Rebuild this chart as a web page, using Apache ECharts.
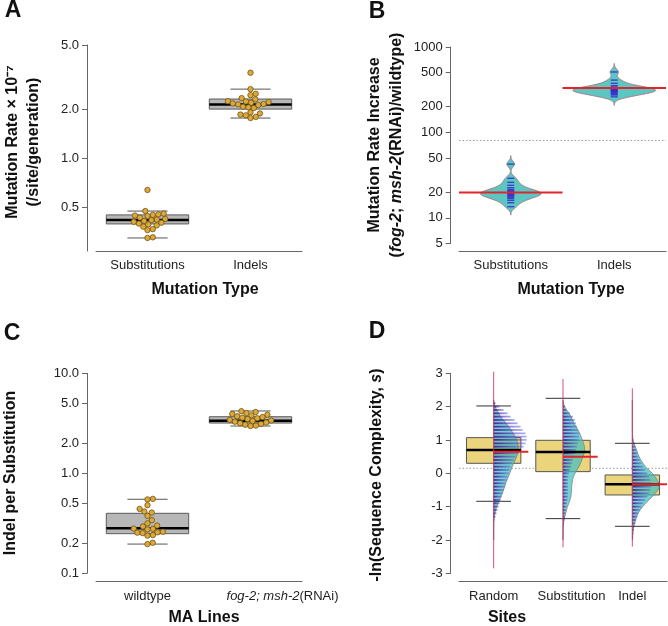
<!DOCTYPE html>
<html><head><meta charset="utf-8">
<script src="https://cdn.jsdelivr.net/npm/echarts@6/dist/echarts.min.js"></script>
<style>html,body{margin:0;padding:0;background:#fff}#c{width:668px;height:626px}</style>
</head><body><div id="c"></div>
<script>
// ---------- Panel A ----------
const aCategories = ['Substitutions', 'Indels'];
const aSubsRates = [0.637, 0.472, 0.455, 0.45, 0.447, 0.443, 0.44, 0.43, 0.422, 0.418, 0.415, 0.41, 0.405, 0.40, 0.395, 0.39, 0.385, 0.378, 0.365, 0.36, 0.325, 0.322];
const aIndelRates = [3.37, 2.67, 2.5, 2.45, 2.35, 2.31, 2.25, 2.24, 2.22, 2.2, 2.18, 2.16, 2.15, 2.13, 2.08, 2.06, 2.04, 1.92, 1.89, 1.86, 1.84, 1.8, 1.77];
// [lower whisker, Q1, median, Q3, upper whisker]
const aSubsBox = [0.322, 0.393, 0.416, 0.447, 0.472];
const aIndelBox = [1.77, 2.01, 2.15, 2.32, 2.67];
const aYTicks = [0.5, 1, 2, 5];
const aYRange = [0.2675, 5];

// ---------- Panel B ----------
const bCategories = ['Substitutions', 'Indels'];
const bSubsIncrease = [42.5, 29, 26, 24, 22.5, 21.5, 20.8, 20.3, 19.9, 19.5, 19.1, 18.7, 18.3, 17.9, 17.4, 16.8, 16, 15, 13.5];
const bIndelIncrease = [510, 410, 375, 352, 340, 333, 327, 322, 317, 313, 309, 305, 300, 294, 287, 280, 274, 261];
const bMeans = [19.8, 331];
const bReference = 80.5;
const bYTicks = [5, 10, 20, 50, 100, 200, 500, 1000];

// ---------- Panel C ----------
const cCategories = ['wildtype', 'fog-2; msh-2(RNAi)'];
const cWildtype = [0.555, 0.548, 0.48, 0.44, 0.415, 0.405, 0.375, 0.34, 0.316, 0.3, 0.294, 0.28, 0.278, 0.275, 0.26, 0.257, 0.255, 0.252, 0.241, 0.238, 0.202, 0.196];
const cMutator = [4.18, 4.1, 4.0, 3.92, 3.85, 3.8, 3.72, 3.65, 3.6, 3.55, 3.48, 3.42, 3.38, 3.33, 3.28, 3.22, 3.17, 3.12, 3.06, 3.0, 2.97];
const cWildtypeBox = [0.196, 0.249, 0.282, 0.398, 0.55];
const cMutatorBox = [2.97, 3.18, 3.36, 3.68, 4.2];
const cYTicks = [0.1, 0.2, 0.5, 1, 2, 5, 10];

// ---------- Panel D ----------
const dCategories = ['Random', 'Substitution', 'Indel'];
const dBinStart = -2.0, dBinStep = 0.1; // bins -2.0 ... 2.2
const dRandomDensity = [0,0,0,0,0.1,0.1,0.2,0.6,1.2,2,3,4.3,5.8,7.2,8.7,9.8,11,12,13.3,14.7,16,17.3,18.5,20,21.5,23,24,24.5,24.5,24,23,21.5,19.5,17.5,15,12.5,9.5,7,5,3,1.5,0.5,0.1];
const dSubsDensity = [0,0,0.1,0.2,0.3,0.6,1,1.8,2.7,3.5,4.5,5.8,7,7.8,8.3,8.5,8.7,9,9.5,10.5,12,14,16,17.5,18.8,20,21,21.7,21.5,20.5,19.3,18,16.7,15,13,11,9.5,8,6,3.5,1.7,0.5,0.1];
const dIndelDensity = [0.2,0.4,0.6,1,1.5,2.3,3.2,4.3,5.8,7.7,10.3,13.3,16.5,20,23,25.7,26.7,26.5,25,22.7,20,16.5,13,10.7,8.5,6.7,5.3,4.2,3,1.7,0.8,0.3,0.1,0,0,0,0,0,0,0,0,0,0];
const dRandomLines = [0,0,0,0,0,0,1,2,3,4,5,6,7,8,9,10,11,12,13,14,15,16,17,18,20,22,25,27,30,32,33,33,32,29,27,24,21,17,14,10,6,2,0];
const dSubsLines = [0,0,0,0,0.5,1,1.5,2,2.5,3,3.5,4,4.5,5,5,5,5,5,5,5.5,6,7,8,9,10,11,12,13,14,15,16,16,16,15,14,13,12,10,7,4,2,1,0];
const dIndelLines = [0,0.5,1,1.5,2,3,4,5,6,7.5,9,11,13,15,17,18,19,19,18,17,15,13,11,9,7.5,6,5,4,3,2,1,0.5,0,0,0,0,0,0,0,0,0,0,0];
const dBoxes = [[-0.84, 0.30, 0.70, 1.07, 2.02], [-1.36, 0.05, 0.64, 0.99, 2.25], [-1.59, -0.65, -0.33, -0.05, 0.90]];
const dRanges = [[-2.85, 3.05], [-2.22, 2.83], [-2.2, 2.55]];
const dMeans = [0.65, 0.50, -0.33];
const dOverall = 0.15;
const dYTicks = [-3, -2, -1, 0, 1, 2, 3];

// ---------- helpers ----------
const FONT = '"Liberation Sans", Arial, Helvetica, sans-serif';
const L = Math.log10;
const AXIS = '#666';
function seg(x1, y1, x2, y2, style) { return { type: 'line', shape: { x1, y1, x2, y2 }, style }; }

function boxSeries(xi, yi, n, boxes, tf, o) {
  return {
    type: 'custom', xAxisIndex: xi, yAxisIndex: yi, z: o.z || 2,
    data: boxes.map((b, i) => [i].concat(b.map(tf))),
    renderItem(params, api) {
      const ci = api.value(0);
      const band = params.coordSys.width / n;
      const cx = api.coord([ci, api.value(3)])[0];
      const y = k => api.coord([ci, api.value(k)])[1];
      const bw = band * o.boxFrac, cw = band * o.capFrac;
      const ch = [];
      if (o.box) ch.push({ type: 'rect', shape: { x: cx - bw / 2, y: y(4), width: bw, height: y(2) - y(4) }, style: { fill: o.fill, stroke: o.stroke, lineWidth: 1 } });
      if (o.median) ch.push(seg(cx - bw / 2, y(3), cx + bw / 2, y(3), { stroke: '#000', lineWidth: o.medianWidth }));
      if (o.caps) {
        ch.push(seg(cx - cw / 2, y(5), cx + cw / 2, y(5), { stroke: o.capColor, lineWidth: 1 }));
        ch.push(seg(cx - cw / 2, y(1), cx + cw / 2, y(1), { stroke: o.capColor, lineWidth: 1 }));
      }
      return { type: 'group', children: ch };
    }
  };
}

function swarmSeries(xi, yi, groups, r) {
  const data = [];
  groups.forEach((vals, ci) => vals.forEach(v => data.push([ci, L(v)])));
  let offsets = null;
  return {
    type: 'custom', xAxisIndex: xi, yAxisIndex: yi, z: 4, data,
    renderItem(params, api) {
      if (!offsets) {
        offsets = new Array(data.length).fill(0);
        groups.forEach((vals, ci) => {
          const pts = [];
          data.forEach((d, i) => { if (d[0] === ci) pts.push({ i, y: api.coord([ci, d[1]])[1] }); });
          pts.sort((a, b) => b.y - a.y);
          const placed = [], D = 2 * r;
          pts.forEach(p => {
            const cands = [0];
            placed.forEach(q => {
              const dy = p.y - q.y;
              if (Math.abs(dy) < D) { const dx = Math.sqrt(D * D - dy * dy); cands.push(q.x + dx, q.x - dx); }
            });
            cands.sort((a, b) => Math.abs(a) - Math.abs(b));
            let x = 0;
            for (const c of cands) {
              if (placed.every(q => (q.x - c) * (q.x - c) + (q.y - p.y) * (q.y - p.y) >= D * D - 0.01)) { x = c; break; }
            }
            p.x = x; placed.push(p); offsets[p.i] = x;
          });
        });
      }
      const pt = api.coord([api.value(0), api.value(1)]);
      return { type: 'circle', shape: { cx: pt[0] + offsets[params.dataIndex], cy: pt[1], r }, style: { fill: '#dcaa3c', stroke: '#6e5214', lineWidth: 0.8 } };
    }
  };
}

// Kernel density (log10 space) for panel B beans
function kde(vals, bw) {
  const xs = vals.map(L);
  const lo = Math.min(...xs) - 3 * bw, hi = Math.max(...xs) + 3 * bw, N = 160, out = [];
  for (let k = 0; k <= N; k++) {
    const g = lo + (hi - lo) * k / N;
    let s = 0;
    xs.forEach(x => { const z = (g - x) / bw; s += Math.exp(-0.5 * z * z); });
    out.push([g, s / xs.length]);
  }
  return out;
}
const bBeans = [kde(bSubsIncrease, 0.033), kde(bIndelIncrease, 0.033)];
const bMax = Math.max(...bBeans.flat().map(p => p[1]));
const dDens = [dRandomDensity, dSubsDensity, dIndelDensity];
const dLinesArr = [dRandomLines, dSubsLines, dIndelLines];
const dMax = Math.max(...dDens.flat());

function xAxisCfg(gi, cats, offset, fmt, rich) {
  return {
    type: 'category', gridIndex: gi, data: cats, offset,
    axisLine: { onZero: false, lineStyle: { color: AXIS, width: 1 } }, axisTick: { show: false },
    axisLabel: { interval: 0, margin: 8, color: '#222', fontSize: 13, fontFamily: FONT, formatter: fmt, rich, hideOverlap: false },
    splitLine: { show: false }
  };
}
function yAxisCfg(gi, min, max, ticks, fmt, offset) {
  return {
    type: 'value', gridIndex: gi, min, max, offset,
    axisLine: { show: true, onZero: false, lineStyle: { color: AXIS, width: 1 } },
    axisTick: { show: true, length: 5, lineStyle: { color: AXIS }, customValues: ticks },
    axisLabel: { customValues: ticks, formatter: fmt, margin: 8, color: '#222', fontSize: 13, fontFamily: FONT, showMinLabel: true, showMaxLabel: true },
    splitLine: { show: false }
  };
}
const richBase = { color: '#222', fontSize: 13, fontFamily: FONT };

const series = [];
// ---- A ----
series.push(boxSeries(0, 0, 2, [aSubsBox, aIndelBox], L, { box: true, median: true, caps: true, boxFrac: 0.8, capFrac: 0.39, fill: '#b7b7b7', stroke: '#5c5c5c', medianWidth: 2.5, capColor: '#555' }));
series.push(swarmSeries(0, 0, [aSubsRates, aIndelRates], 2.7));
// ---- B ----
series.push({
  type: 'custom', xAxisIndex: 1, yAxisIndex: 1, z: 1, data: [[0, L(bReference)]],
  renderItem(params, api) {
    const cs = params.coordSys, y = api.coord([0, api.value(1)])[1];
    return seg(cs.x, y, cs.x + cs.width, y, { stroke: '#9a9a9a', lineWidth: 1, lineDash: [1.5, 2] });
  }
});
series.push({
  type: 'custom', xAxisIndex: 1, yAxisIndex: 1, z: 2, data: [[0, L(bMeans[0])], [1, L(bMeans[1])]],
  renderItem(params, api) {
    const ci = api.value(0), band = params.coordSys.width / 2;
    const cx = api.coord([ci, api.value(1)])[0];
    const pts = bBeans[ci];
    const half = d => d / bMax * 0.4 * band;
    const right = pts.map(p => [cx + half(p[1]), api.coord([ci, p[0]])[1]]);
    const left = pts.slice().reverse().map(p => [cx - half(p[1]), api.coord([ci, p[0]])[1]]);
    return { type: 'polygon', shape: { points: right.concat(left) }, style: { fill: '#5cc6c2', stroke: '#a07e80', lineWidth: 1 } };
  }
});
const bDashData = [];
[bSubsIncrease, bIndelIncrease].forEach((vals, ci) => vals.forEach(v => bDashData.push([ci, L(v)])));
series.push({
  type: 'custom', xAxisIndex: 1, yAxisIndex: 1, z: 3, data: bDashData,
  renderItem(params, api) {
    const p = api.coord([api.value(0), api.value(1)]);
    return seg(p[0] - 3.5, p[1], p[0] + 3.5, p[1], { stroke: 'rgba(55,45,200,0.85)', lineWidth: 1.4 });
  }
});
series.push({
  type: 'custom', xAxisIndex: 1, yAxisIndex: 1, z: 4, data: bMeans.map((m, i) => [i, L(m)]),
  renderItem(params, api) {
    const band = params.coordSys.width / 2, p = api.coord([api.value(0), api.value(1)]);
    return seg(p[0] - band / 2, p[1], p[0] + band / 2, p[1], { stroke: '#e3242b', lineWidth: 2 });
  }
});
// ---- C ----
series.push(boxSeries(2, 2, 2, [cWildtypeBox, cMutatorBox], L, { box: true, median: true, caps: true, boxFrac: 0.8, capFrac: 0.39, fill: '#b7b7b7', stroke: '#5c5c5c', medianWidth: 2.5, capColor: '#555' }));
series.push(swarmSeries(2, 2, [cWildtype, cMutator], 2.7));
// ---- D ----
const dId = v => v;
series.push({
  type: 'custom', xAxisIndex: 3, yAxisIndex: 3, z: 1, data: [[0, dOverall]],
  renderItem(params, api) {
    const cs = params.coordSys, y = api.coord([0, api.value(1)])[1];
    return seg(cs.x, y, cs.x + cs.width, y, { stroke: '#9a9a9a', lineWidth: 1, lineDash: [1.5, 2] });
  }
});
series.push(boxSeries(3, 3, 3, dBoxes, dId, { box: true, boxFrac: 0.785, fill: '#ebd57c', stroke: '#555', z: 2 }));
series.push({
  type: 'custom', xAxisIndex: 3, yAxisIndex: 3, z: 3, data: [[0, 0], [1, 0], [2, 0]],
  renderItem(params, api) {
    const ci = api.value(0), band = params.coordSys.width / 3;
    const cx = api.coord([ci, 0])[0];
    const d = dDens[ci], k = 0.385 * band / dMax;
    const pts = d.map((v, i) => [cx + v * k, api.coord([ci, dBinStart + i * dBinStep])[1]]);
    pts.push([cx, pts[pts.length - 1][1]], [cx, pts[0][1]]);
    return { type: 'polygon', shape: { points: pts }, style: { fill: 'rgba(62,192,190,0.72)', stroke: '#808080', lineWidth: 0.8 } };
  }
});
const dLineData = [];
dLinesArr.forEach((arr, ci) => arr.forEach((len, i) => { if (len > 0) dLineData.push([ci, dBinStart + i * dBinStep, len]); }));
series.push({
  type: 'custom', xAxisIndex: 3, yAxisIndex: 3, z: 4, data: dLineData,
  renderItem(params, api) {
    const band = params.coordSys.width / 3;
    const p = api.coord([api.value(0), api.value(1)]);
    const x2 = p[0] + api.value(2) * 0.385 * band / dMax;
    return seg(p[0], p[1], x2, p[1], {
      lineWidth: 1.8,
      stroke: { type: 'linear', global: true, x: p[0], y: p[1], x2: x2, y2: p[1], colorStops: [{ offset: 0, color: 'rgba(72,18,150,0.95)' }, { offset: 1, color: 'rgba(90,100,215,0.5)' }] }
    });
  }
});
series.push(boxSeries(3, 3, 3, dBoxes, dId, { median: true, caps: true, boxFrac: 0.785, capFrac: 0.5, medianWidth: 2.5, capColor: '#333', z: 5 }));
series.push({
  type: 'custom', xAxisIndex: 3, yAxisIndex: 3, z: 6, data: dRanges.map((r, i) => [i, r[0], r[1]]),
  renderItem(params, api) {
    const a = api.coord([api.value(0), api.value(1)]), b = api.coord([api.value(0), api.value(2)]);
    return seg(a[0], a[1], b[0], b[1], { stroke: 'rgba(200,55,95,0.85)', lineWidth: 1 });
  }
});
series.push({
  type: 'custom', xAxisIndex: 3, yAxisIndex: 3, z: 7, data: dMeans.map((m, i) => [i, m]),
  renderItem(params, api) {
    const band = params.coordSys.width / 3, p = api.coord([api.value(0), api.value(1)]);
    return seg(p[0], p[1], p[0] + band / 2, p[1], { stroke: '#e3242b', lineWidth: 2 });
  }
});

const titleFont = 'bold 16px ' + FONT;
const letterFont = 'bold 23px ' + FONT;
function gtext(x, y, text, font, rot, rich) {
  const el = { type: 'text', x, y, style: { text, font, fill: '#111', textAlign: 'center', textVerticalAlign: 'middle' } };
  if (rot) el.rotation = Math.PI / 2;
  if (rich) el.style.rich = rich;
  return el;
}
const boldRich = { b: { font: titleFont, fill: '#111' }, bi: { font: 'italic bold 16px ' + FONT, fill: '#111' } };

const option = {
  animation: false,
  backgroundColor: '#fff',
  grid: [
    { left: 96, top: 45, width: 206, height: 206, outerBoundsMode: 'none' },
    { left: 459, top: 47, width: 207, height: 196.5, outerBoundsMode: 'none' },
    { left: 96, top: 373.3, width: 206, height: 200, outerBoundsMode: 'none' },
    { left: 459, top: 373.3, width: 208, height: 200, outerBoundsMode: 'none' }
  ],
  xAxis: [
    xAxisCfg(0, aCategories, 0),
    xAxisCfg(1, bCategories, 7.5),
    xAxisCfg(2, cCategories, 8.4, (v, i) => i === 1 ? '{sp| }{i|fog-2; msh-2}{n|(RNAi)}' : '{n|' + v + '}',
      { sp: { width: 64 }, i: Object.assign({ fontStyle: 'italic' }, richBase), n: richBase }),
    xAxisCfg(3, dCategories, 8.4, (v, i) => i === 1 ? '{sp| }{n|' + v + '}' : '{n|' + v + '}',
      { sp: { width: 17 }, n: richBase })
  ],
  yAxis: [
    yAxisCfg(0, L(aYRange[0]), L(aYRange[1]) + 1e-9, aYTicks.map(L), v => Math.pow(10, v).toFixed(1), 9),
    yAxisCfg(1, L(bYTicks[0]) - 1e-9, L(bYTicks[bYTicks.length - 1]) + 1e-9, bYTicks.map(L), v => String(Math.round(Math.pow(10, v))), 8.3),
    yAxisCfg(2, L(cYTicks[0]) - 1e-9, L(cYTicks[cYTicks.length - 1]) + 1e-9, cYTicks.map(L), v => Math.pow(10, v).toFixed(1), 9),
    yAxisCfg(3, dYTicks[0], dYTicks[dYTicks.length - 1], dYTicks, v => String(Math.round(v)), 8.3)
  ],
  series,
  graphic: [
    gtext(13, 11, 'A', letterFont), gtext(377, 11.5, 'B', letterFont),
    gtext(12, 334, 'C', letterFont), gtext(377, 332, 'D', letterFont),
    gtext(205, 290, 'Mutation Type', titleFont), gtext(571, 290, 'Mutation Type', titleFont),
    gtext(204, 618, 'MA Lines', titleFont), gtext(507, 618, 'Sites', titleFont),
    gtext(12.5, 142, 'Mutation Rate × 10⁻⁷', titleFont, true),
    gtext(33.5, 142, '(/site/generation)', titleFont, true),
    gtext(374.5, 145, 'Mutation Rate Increase', titleFont, true),
    gtext(396.5, 145, '{b|(}{bi|fog-2}{b|; }{bi|msh-2}{b|(RNAi)/wildtype)}', titleFont, true, boldRich),
    gtext(11, 473, 'Indel per Substitution', titleFont, true),
    gtext(377, 475, '{b|-ln(Sequence Complexity, }{bi|s}{b|)}', titleFont, true, boldRich)
  ]
};
const chart = echarts.init(document.getElementById('c'), null, { renderer: 'canvas' });
chart.setOption(option);
</script></body></html>
